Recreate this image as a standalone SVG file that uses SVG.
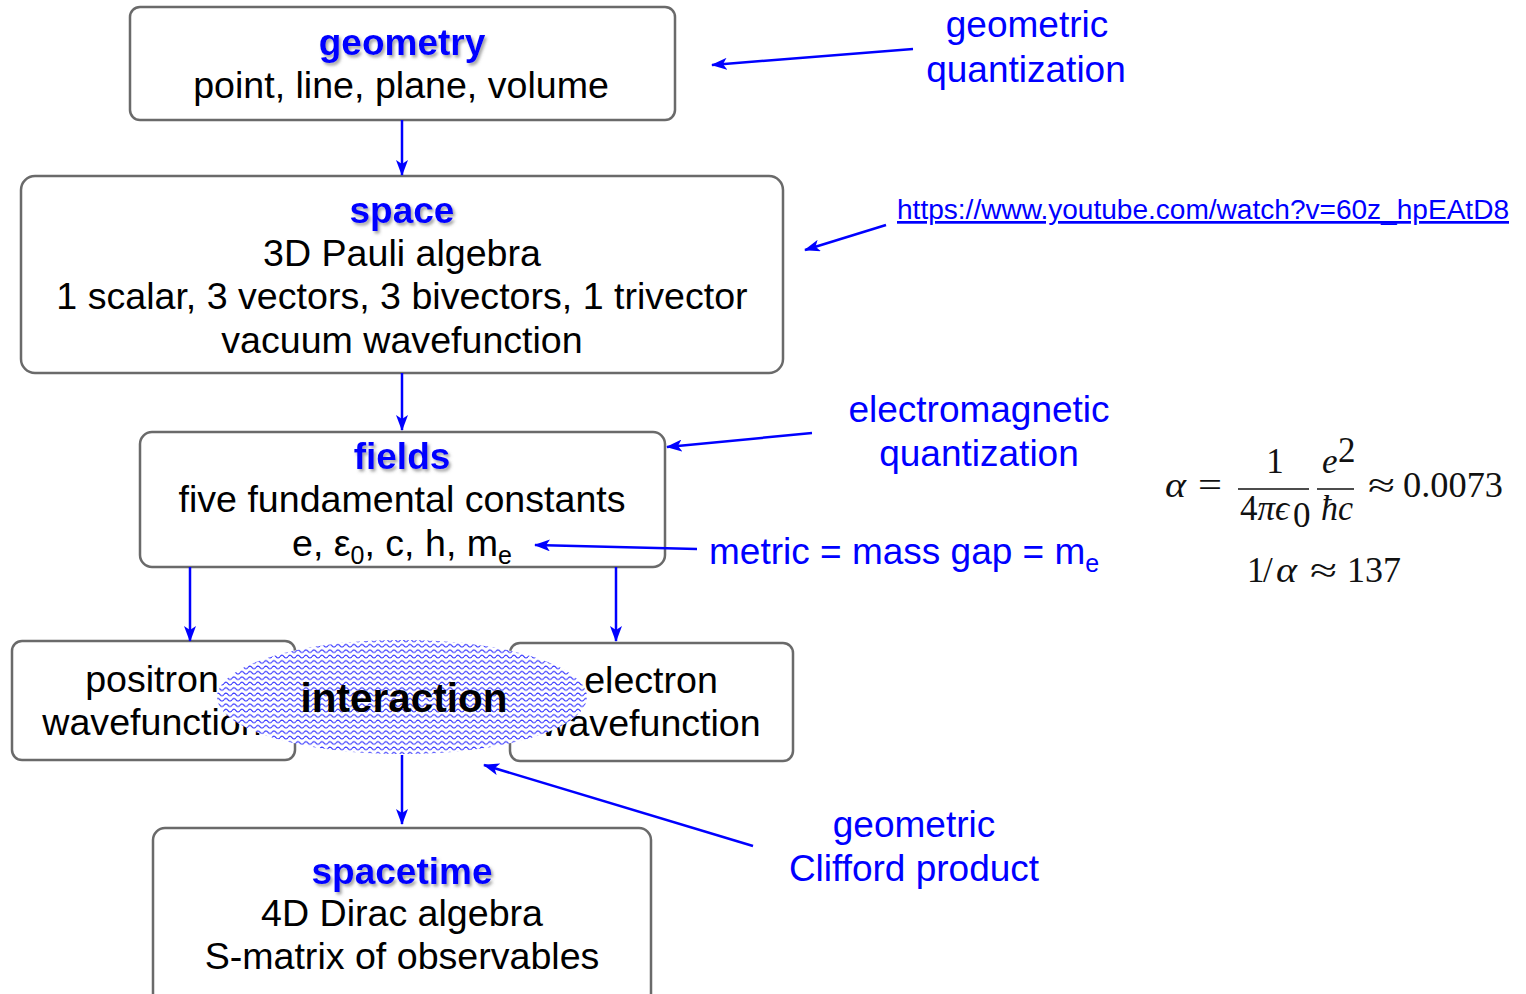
<svg xmlns="http://www.w3.org/2000/svg" width="1526" height="994" viewBox="0 0 1526 994">
<style>
.box{fill:#fff;stroke:#6a6a6a;stroke-width:2.5}
.title{font-family:"Liberation Sans",Arial,sans-serif;font-weight:bold;font-size:37px;fill:#0000ff;text-anchor:middle;filter:url(#sh)}
.body{font-family:"Liberation Sans",Arial,sans-serif;font-size:37.6px;fill:#000;text-anchor:middle}
.note{font-family:"Liberation Sans",Arial,sans-serif;font-size:37px;fill:#0000ff;text-anchor:middle}
.math{font-family:"Liberation Serif","Times New Roman",serif;font-size:35px;fill:#111}
.it{font-style:italic}
.conn line{stroke:#0000ff;stroke-width:2.5;marker-end:url(#ah)}
</style>
<defs>
<filter id="sh" x="-10%" y="-20%" width="130%" height="160%">
<feDropShadow dx="2" dy="2.5" stdDeviation="1.5" flood-color="#555" flood-opacity="0.55"/>
</filter>
<marker id="ah" viewBox="0 0 16 12" markerWidth="16" markerHeight="12" refX="15" refY="6" markerUnits="userSpaceOnUse" orient="auto">
<path d="M0,0 L16,6 L0,12 L4,6 z" fill="#0000ff"/>
</marker>
<pattern id="wave" width="8" height="5.4" patternUnits="userSpaceOnUse">
<rect width="8" height="5.4" fill="#fff"/>
<path d="M0,3.2 Q2,0.6 4,3.2 T8,3.2" fill="none" stroke="#2020ff" stroke-width="1"/>
</pattern>
</defs>
<rect width="1526" height="994" fill="#fff"/>

<g id="geometry">
<rect class="box" x="130" y="7" width="545" height="113" rx="10"/>
<text class="title" x="402" y="55">geometry</text>
<text class="body" x="401" y="98">point, line, plane, volume</text>
</g>

<g id="space">
<rect class="box" x="21" y="176" width="762" height="197" rx="14"/>
<text class="title" x="402" y="223">space</text>
<text class="body" x="402" y="266">3D Pauli algebra</text>
<text class="body" x="402" y="309">1 scalar, 3 vectors, 3 bivectors, 1 trivector</text>
<text class="body" x="402" y="353">vacuum wavefunction</text>
</g>

<g id="fields">
<rect class="box" x="140" y="432" width="525" height="135" rx="12"/>
<text class="title" x="402" y="469">fields</text>
<text class="body" x="402" y="512">five fundamental constants</text>
<text class="body" x="402" y="556">e, ε<tspan font-size="25" dy="8">0</tspan><tspan dy="-8">, c, h, m</tspan><tspan font-size="25" dy="8">e</tspan></text>
</g>

<g id="positron">
<rect class="box" x="12" y="641" width="283" height="119" rx="10"/>
<text class="body" x="152" y="692">positron</text>
<text class="body" x="152" y="735">wavefunction</text>
</g>

<g id="electron">
<rect class="box" x="510" y="643" width="283" height="118" rx="10"/>
<text class="body" x="651" y="693">electron</text>
<text class="body" x="651" y="736">wavefunction</text>
</g>

<g id="interaction">
<ellipse cx="402" cy="697" rx="185" ry="57" fill="url(#wave)"/>
<text x="404" y="712" font-family="'Liberation Sans',Arial,sans-serif" font-weight="bold" font-size="40.5" text-anchor="middle" fill="#000">interaction</text>
</g>

<g id="spacetime">
<rect class="box" x="153" y="828" width="498" height="180" rx="12"/>
<text class="title" x="402" y="884">spacetime</text>
<text class="body" x="402" y="926">4D Dirac algebra</text>
<text class="body" x="402" y="969">S-matrix of observables</text>
</g>

<g id="note-geometric-quantization">
<text class="note" x="1027" y="37">geometric</text>
<text class="note" x="1026" y="82">quantization</text>
</g>

<g id="note-url">
<text x="897" y="219" font-family="'Liberation Sans',Arial,sans-serif" font-size="27" fill="#0000ff" text-decoration="underline" textLength="612" lengthAdjust="spacingAndGlyphs">https://www.youtube.com/watch?v=60z_hpEAtD8</text>
</g>

<g id="note-em-quantization">
<text class="note" x="979" y="422">electromagnetic</text>
<text class="note" x="979" y="466">quantization</text>
</g>

<g id="note-metric">
<text x="709" y="564" font-family="'Liberation Sans',Arial,sans-serif" font-size="37" fill="#0000ff">metric = mass gap = m<tspan font-size="25" dy="8">e</tspan></text>
</g>

<g id="note-clifford">
<text class="note" x="914" y="837">geometric</text>
<text class="note" x="914" y="881">Clifford product</text>
</g>

<g id="formula">
<text class="math it" x="1165" y="497" textLength="21" lengthAdjust="spacingAndGlyphs">α</text>
<text class="math" x="1198" y="497" textLength="24" lengthAdjust="spacingAndGlyphs">=</text>
<text class="math" x="1275" y="473" text-anchor="middle">1</text>
<line x1="1238" y1="489" x2="1309" y2="489" stroke="#111" stroke-width="1.6"/>
<text class="math" x="1240" y="520">4<tspan class="it">πϵ</tspan></text>
<text class="math" x="1293" y="527" font-size="22">0</text>
<text class="math it" x="1322" y="473">e</text>
<text class="math" x="1338" y="462" font-size="20">2</text>
<line x1="1317" y1="489" x2="1354" y2="489" stroke="#111" stroke-width="1.6"/>
<text class="math it" x="1321" y="520" textLength="32" lengthAdjust="spacingAndGlyphs">ħc</text>
<text class="math" x="1368" y="497" textLength="27" lengthAdjust="spacingAndGlyphs">≈</text>
<text class="math" x="1403" y="497" textLength="100" lengthAdjust="spacingAndGlyphs">0.0073</text>
<text class="math" x="1247" y="582">1</text>
<text class="math" x="1263" y="582">/</text>
<text class="math it" x="1276" y="582" textLength="21" lengthAdjust="spacingAndGlyphs">α</text>
<text class="math" x="1310" y="582" textLength="27" lengthAdjust="spacingAndGlyphs">≈</text>
<text class="math" x="1347" y="582" textLength="54" lengthAdjust="spacingAndGlyphs">137</text>
</g>

<g id="connectors" class="conn">
<line x1="402" y1="120" x2="402" y2="175"/>
<line x1="402" y1="373" x2="402" y2="430"/>
<line x1="190" y1="567" x2="190" y2="641"/>
<line x1="616" y1="567" x2="616" y2="641"/>
<line x1="402" y1="755" x2="402" y2="824"/>
<line x1="913" y1="49" x2="712" y2="65"/>
<line x1="886" y1="225" x2="805" y2="250"/>
<line x1="812" y1="433" x2="667" y2="447"/>
<line x1="697" y1="549" x2="535" y2="545"/>
<line x1="753" y1="846" x2="484" y2="765"/>
</g>
</svg>
